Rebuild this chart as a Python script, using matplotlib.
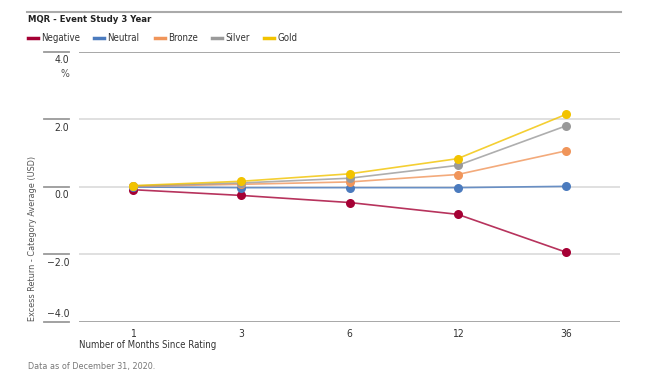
import matplotlib
matplotlib.use("Agg")
import matplotlib.pyplot as plt
from matplotlib import font_manager
from matplotlib.transforms import blended_transform_factory
from matplotlib.lines import Line2D

# ---- data ----
months = ["1", "3", "6", "12", "36"]
negative = [-0.08, -0.25, -0.46, -0.81, -1.93]
neutral = [0.00, -0.02, -0.02, -0.02, 0.02]
bronze = [0.02, 0.08, 0.15, 0.37, 1.07]
silver = [0.03, 0.12, 0.26, 0.64, 1.81]
gold = [0.04, 0.17, 0.39, 0.84, 2.15]
series_names = ["Negative", "Neutral", "Bronze", "Silver", "Gold"]
series_values = [negative, neutral, bronze, silver, gold]
series_colors = ["#A50034", "#4B7BBE", "#F0955A", "#9A9A9A", "#F2C300"]
y_ticks = [4.0, 2.0, 0.0, -2.0, -4.0]
y_tick_labels = ["4.0", "2.0", "0.0", "\u22122.0", "\u22124.0"]

names = {f.name for f in font_manager.fontManager.ttflist}
if "Liberation Sans Narrow" in names:
    FONT = {"family": "Liberation Sans Narrow"}
else:
    FONT = {"family": "DejaVu Sans", "stretch": "condensed"}
plt.rcParams["font.family"] = FONT["family"]

W, H = 650, 382
fig = plt.figure(figsize=(W / 100, H / 100), dpi=100)
fig.patch.set_facecolor("white")

def fx(px):
    return px / W

def fy(py):
    return 1 - py / H

ax = fig.add_axes([fx(79), fy(322), fx(620) - fx(79), (322 - 52) / H])
ax.set_xlim(-0.5, len(months) - 0.5)
ax.set_ylim(-4, 4)
for s in ax.spines.values():
    s.set_visible(False)
ax.set_xticks([])
ax.set_yticks([])

# gridlines
for v in y_ticks:
    edge = v in (4.0, -4.0)
    ax.axhline(v, color="#a0a0a0" if edge else "#dddddd", lw=1.3, zorder=0)

# left short tick segments and labels
bt = blended_transform_factory(fig.transFigure, ax.transData)
for v, lab in zip(y_ticks, y_tick_labels):
    ax.plot([fx(44), fx(69)], [v, v], transform=bt, color="#9a9a9a", lw=1.3, clip_on=False)
    if v == -4.0:
        ax.annotate(lab, xy=(fx(69), v), xycoords=bt, xytext=(0, 2.5), textcoords="offset points",
                    ha="right", va="bottom", fontsize=7.5, color="#333333", **FONT)
    else:
        ax.annotate(lab, xy=(fx(69), v), xycoords=bt, xytext=(0, -2.5), textcoords="offset points",
                    ha="right", va="top", fontsize=7.5, color="#333333", **FONT)
ax.annotate("%", xy=(fx(69), 4.0), xycoords=bt, xytext=(0, -12.5), textcoords="offset points",
            ha="right", va="top", fontsize=7.5, color="#555555", **FONT)

# series
xs = list(range(len(months)))
for i, (name, vals, col) in enumerate(zip(series_names, series_values, series_colors)):
    ax.plot(xs, vals, color=col, lw=1.2, alpha=0.8, zorder=2 + i)
    ax.plot(xs, vals, linestyle="none", marker="o", markersize=6.5, color=col,
            markeredgewidth=0, zorder=10 + i)

# x tick labels
bx = blended_transform_factory(ax.transData, fig.transFigure)
for x, m in zip(xs, months):
    ax.text(x, fy(334), m, transform=bx, ha="center", va="center", fontsize=7.5,
            color="#333333", **FONT)

fig.text(fx(79), fy(345), "Number of Months Since Rating", ha="left", va="center",
         fontsize=6.9, color="#333333", **FONT)
fig.text(fx(33), fy(321), "Excess Return - Category Average (USD)", rotation=90,
         ha="center", va="bottom", fontsize=6.5, color="#555555", **FONT)
fig.text(fx(28), fy(367), "Data as of December 31, 2020.", ha="left", va="center",
         fontsize=6.5, color="#777777", **FONT)

# title and top rule
fig.add_artist(Line2D([fx(27), fx(621)], [fy(12), fy(12)], color="#aaaaaa", lw=1.5))
fig.text(fx(28), fy(20), "MQR - Event Study 3 Year", ha="left", va="center",
         fontsize=6.8, fontweight="bold", color="#222222", **FONT)

# legend
legend_x = [28, 94, 155, 212, 264]
for lx, name, col in zip(legend_x, series_names, series_colors):
    fig.add_artist(Line2D([fx(lx), fx(lx + 10)], [fy(38), fy(38)], color=col, lw=2.5))
    fig.text(fx(lx + 13), fy(38), name, ha="left", va="center", fontsize=6.9,
             color="#333333", **FONT)

fig.savefig("out.png", dpi=100, facecolor="white")
